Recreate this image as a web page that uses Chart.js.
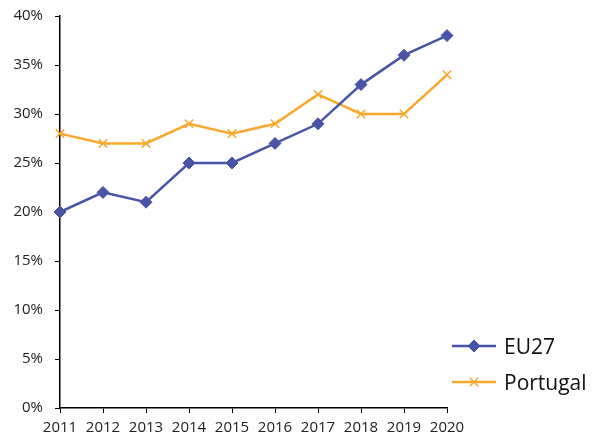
<!DOCTYPE html>
<html>
<head>
<meta charset="utf-8">
<script src="https://cdn.jsdelivr.net/npm/chart.js@4/dist/chart.umd.min.js"></script>
<style>
  html, body { margin: 0; padding: 0; background: #fff; }
  #wrap { width: 600px; height: 439px; }
</style>
</head>
<body>
<div id="wrap"><canvas id="c"></canvas></div>
<script>
/* data */
const years    = ['2011','2012','2013','2014','2015','2016','2017','2018','2019','2020'];
const eu27     = [20, 22, 21, 25, 25, 27, 29, 33, 36, 38];
const portugal = [28, 27, 27, 29, 28, 29, 32, 30, 30, 34];

const BLUE   = '#4855a6';
const ORANGE = '#f8a82c';
const FONT   = "'Open Sans', 'Liberation Sans', sans-serif";

Chart.defaults.font.family = FONT;
Chart.defaults.color = '#222';

/* legend at lower right, line + marker like Excel */
const sideLegend = {
  id: 'sideLegend',
  afterDraw(chart) {
    const ctx = chart.ctx;
    const items = chart.data.datasets.map((d, i) => ({ ds: d, y: 346 + i * 36 }));
    ctx.save();
    items.forEach(({ ds, y }) => {
      ctx.strokeStyle = ds.borderColor;
      ctx.lineWidth = 2.5;
      ctx.beginPath(); ctx.moveTo(452, y); ctx.lineTo(496, y); ctx.stroke();
      ctx.fillStyle = ds.pointBackgroundColor;
      ctx.strokeStyle = ds.pointBorderColor;
      ctx.lineWidth = ds.pointBorderWidth || 1.5;
      Chart.helpers.drawPoint(ctx, {
        pointStyle: ds.pointStyle, radius: ds.pointRadius,
        borderWidth: ds.pointBorderWidth || 1.5
      }, 474, y);
      ctx.fillStyle = '#111';
      ctx.font = '21px ' + FONT;
      ctx.textBaseline = 'middle';
      ctx.textAlign = 'left';
      ctx.fillText(ds.label, 504, y + 2);
    });
    ctx.restore();
  }
};

new Chart('c', {
  type: 'line',
  data: {
    labels: years,
    datasets: [
      {
        label: 'EU27', data: eu27,
        borderColor: BLUE, borderWidth: 2.5,
        pointStyle: 'rectRot', pointRadius: 6,
        pointBackgroundColor: BLUE, pointBorderColor: BLUE, pointBorderWidth: 1,
        tension: 0
      },
      {
        label: 'Portugal', data: portugal,
        borderColor: ORANGE, borderWidth: 2.5,
        pointStyle: 'crossRot', pointRadius: 6,
        pointBackgroundColor: ORANGE, pointBorderColor: ORANGE, pointBorderWidth: 1.5,
        tension: 0
      }
    ]
  },
  options: {
    responsive: true, maintainAspectRatio: false, animation: false,
    layout: { padding: { top: 16, right: 153, left: 0, bottom: 0 } },
    plugins: { legend: { display: false }, tooltip: { enabled: false } },
    scales: {
      x: {
        offset: false,
        grid: { drawOnChartArea: false, drawTicks: true, tickLength: 5, color: '#000' },
        border: { color: '#000', width: 1.5 },
        ticks: { font: { size: 15 }, color: '#222', padding: 6, maxRotation: 0, autoSkip: false },
        afterFit: s => { s.height = 31; s.paddingLeft = 0; s.paddingRight = 0; }
      },
      y: {
        min: 0, max: 40,
        grid: { drawOnChartArea: false, drawTicks: true, tickLength: 5, color: '#000' },
        border: { color: '#000', width: 1.5 },
        ticks: { stepSize: 5, font: { size: 15 }, color: '#222', padding: 12, callback: v => v + '%' },
        afterFit: s => { s.width = 60; s.paddingTop = 0; s.paddingBottom = 0; }
      }
    }
  },
  plugins: [sideLegend]
});
</script>
</body>
</html>
